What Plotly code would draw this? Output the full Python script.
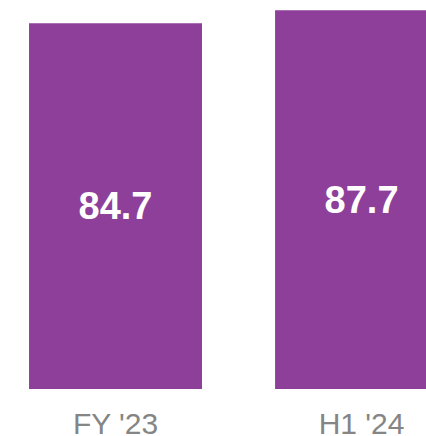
import plotly.graph_objects as go

categories = ["FY '23", "H1 '24"]
values = [84.7, 87.7]
labels = ["84.7", "87.7"]

fig = go.Figure(
    go.Bar(
        x=categories,
        y=values,
        text=labels,
        textposition="inside",
        insidetextanchor="middle",
        textangle=0,
        textfont=dict(family="Liberation Sans, Arial, sans-serif", size=38, color="white", weight="bold"),
        marker=dict(color="#8E3F99", line=dict(width=0)),
        width=0.703,
        hoverinfo="skip",
    )
)

fig.update_layout(
    width=426,
    height=436,
    margin=dict(l=0, r=0, t=0, b=47),
    paper_bgcolor="white",
    plot_bgcolor="white",
    showlegend=False,
)
fig.update_xaxes(
    type="category",
    range=[-0.4695, 1.262],
    automargin=False,
    showgrid=False,
    zeroline=False,
    showline=False,
    ticks="",
    ticklabelstandoff=14,
    tickfont=dict(family="Liberation Sans, Arial, sans-serif", size=30, color="#858585"),
)
fig.update_yaxes(
    range=[0, 90.1],
    automargin=False,
    visible=False,
    showgrid=False,
    zeroline=False,
)

fig.write_html(
    "out.html",
    config={"displayModeBar": False},
    post_script="document.body.style.margin='0';document.body.style.overflow='hidden';",
)
